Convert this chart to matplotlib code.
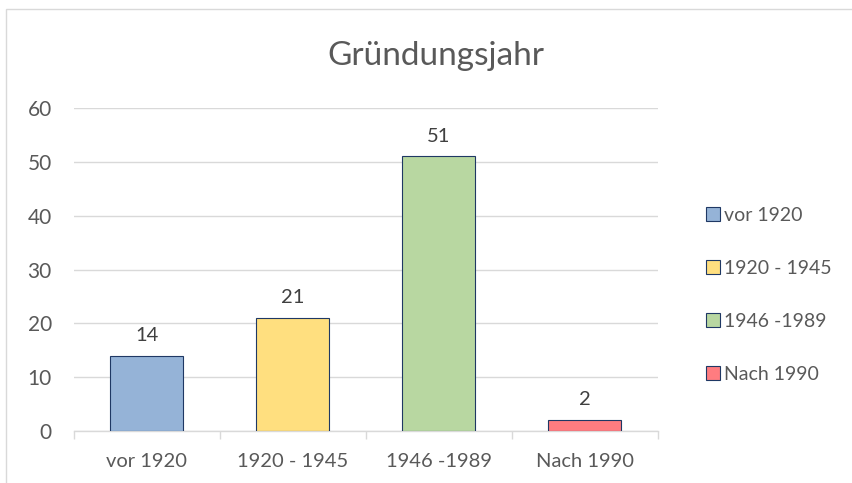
import matplotlib
matplotlib.use("Agg")
import matplotlib.pyplot as plt
from matplotlib.patches import Rectangle

categories = ["vor 1920", "1920 - 1945", "1946 -1989", "Nach 1990"]
values     = [14, 21, 51, 2]
colors     = ["#95B3D7", "#FFDF7F", "#B8D7A1", "#FF7C80"]
y_ticks    = [0, 10, 20, 30, 40, 50, 60]

plt.rcParams['font.family'] = ['Lato', 'DejaVu Sans']
txt_col  = "#595959"
grid_col = "#D9D9D9"
fs = 14.5

fig = plt.figure(figsize=(8.53, 4.83), dpi=100)
# outer chart frame
fig.patches.append(Rectangle((6/853, -0.1), 1.1, 1 - 9/483 + 0.1,
                             transform=fig.transFigure, fill=False,
                             ec=grid_col, lw=1))

ax = fig.add_axes([74/853, 1 - 431/483, (658 - 74)/853, (431 - 108)/483])
x = range(len(categories))
bars = ax.bar(x, values, width=0.5, color=colors, edgecolor="#1F3864",
              linewidth=0.8, label=categories, zorder=3)

for xi, v in zip(x, values):
    ax.text(xi, v + 2.2, str(v), ha='center', va='bottom',
            fontsize=fs, color="#404040")

ax.set_xlim(-0.5, len(categories) - 0.5)
ax.set_ylim(0, 60)
ax.set_yticks(y_ticks)
ax.yaxis.grid(True, color=grid_col, lw=1, zorder=0)
ax.set_xticks(list(x))
ax.set_xticklabels(categories)
ax.set_xticks([i - 0.5 for i in range(len(categories) + 1)], minor=True)
ax.tick_params(axis='x', which='major', length=0, pad=16,
               labelsize=fs, labelcolor=txt_col)
ax.tick_params(axis='x', which='minor', length=6, color=grid_col, width=1)
ax.tick_params(axis='y', length=0, pad=16, labelsize=15, labelcolor=txt_col)
for s in ['top', 'right', 'left']:
    ax.spines[s].set_visible(False)
ax.spines['bottom'].set_color(grid_col)
ax.spines['bottom'].set_linewidth(1)

fig.text(436/853, 1 - 56/483, "Gründungsjahr", ha='center', va='center',
         fontsize=24, color=txt_col)

leg = fig.legend(handles=list(bars), labels=categories,
                 loc='center left', bbox_to_anchor=(688/853, 1 - 295/483),
                 frameon=False, fontsize=14, labelspacing=1.85,
                 handlelength=0.75, handleheight=0.75, handletextpad=0.2)
for t in leg.get_texts():
    t.set_color(txt_col)

fig.savefig("out.png", dpi=100)
